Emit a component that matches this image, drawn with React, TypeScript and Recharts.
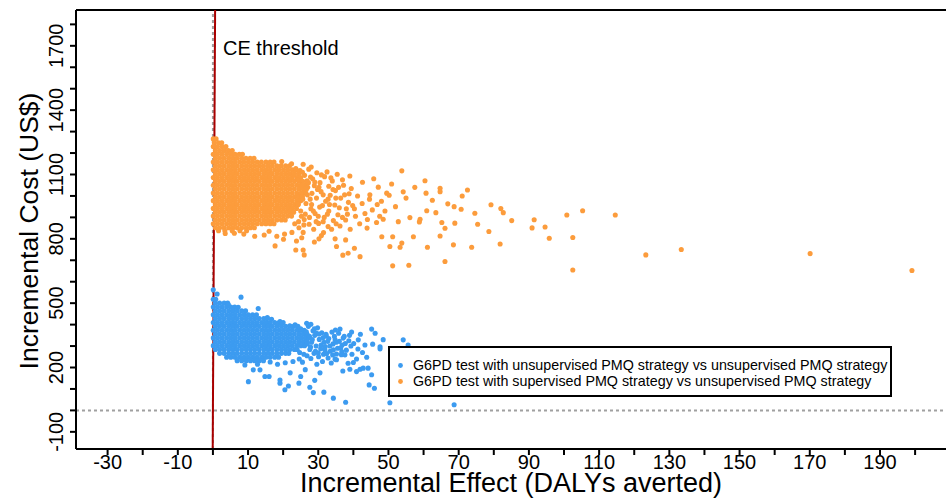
import React from 'react';
import { ScatterChart, Scatter, XAxis, YAxis, ReferenceLine, Legend } from 'recharts';

const FONT = "'Liberation Sans', Arial, sans-serif";
const BLUE = '#3c9bf0';
const ORANGE = '#fc9c3c';
const COLORS = [BLUE, ORANGE];

const SERIES_NAMES = [
  'G6PD test with unsupervised PMQ strategy vs unsupervised PMQ strategy',
  'G6PD test with supervised PMQ strategy vs unsupervised PMQ strategy',
];

const X_DOMAIN = [-39, 208.8];
const Y_DOMAIN = [-180, 1867];
const X_TICKS = [-30, -20, -10, 0, 10, 20, 30, 40, 50, 60, 70, 80, 90, 100, 110, 120, 130, 140, 150, 160, 170, 180, 190, 200];
const X_TICK_LABELS = [-30, -10, 10, 30, 50, 70, 90, 110, 130, 150, 170, 190];
const Y_TICKS = [-100, 0, 100, 200, 300, 400, 500, 600, 700, 800, 900, 1000, 1100, 1200, 1300, 1400, 1500, 1600, 1700, 1800];
const Y_TICK_LABELS = [-100, 200, 500, 800, 1100, 1400, 1700];
const CE_THRESHOLD = 3000; // US$ per DALY averted

// Orange (supervised) dense core: one cost level per row, x values read along the row
const ORANGE_CORE_COSTS = [1266, 1248, 1230, 1212, 1194, 1176, 1158, 1140, 1122, 1104, 1086, 1068, 1050, 1032, 1014, 996, 978, 960, 942, 924, 906, 888, 870, 852, 838];
const ORANGE_CORE_ROWS = [
  [0.1, 0.9],
  [0.4, 1.6, 2.5],
  [0.1, 1.3, 2.6, 3.7],
  [0.7, 1.9, 3.2, 4.4, 5.5],
  [0.1, 1.3, 2.6, 3.9, 5.1, 6.3, 7.5, 8.4],
  [0.7, 1.9, 3.2, 4.5, 5.7, 6.9, 8.2, 9.4, 10.6, 11.7],
  [0.1, 1.3, 2.6, 3.9, 5.1, 6.3, 7.6, 8.8, 10.1, 11.3, 12.6, 13.8, 15.1, 16.3, 17.4],
  [0.7, 1.9, 3.2, 4.5, 5.7, 6.9, 8.2, 9.5, 10.7, 11.9, 13.2, 14.4, 15.7, 16.9, 18.2, 19.4, 20.7, 21.8],
  [0.1, 1.3, 2.6, 3.9, 5.1, 6.3, 7.6, 8.9, 10.1, 11.3, 12.6, 13.9, 15.1, 16.3, 17.6, 18.8, 20.1, 21.3, 22.6, 23.7],
  [0.7, 1.9, 3.2, 4.5, 5.7, 6.9, 8.2, 9.5, 10.7, 11.9, 13.2, 14.5, 15.7, 16.9, 18.2, 19.5, 20.7, 21.9, 23.2, 24.4],
  [0.1, 1.3, 2.6, 3.9, 5.1, 6.3, 7.6, 8.9, 10.1, 11.3, 12.6, 13.9, 15.1, 16.3, 17.6, 18.9, 20.1, 21.3, 22.6, 23.9, 25.0],
  [0.7, 1.9, 3.2, 4.5, 5.7, 6.9, 8.2, 9.5, 10.7, 11.9, 13.2, 14.5, 15.7, 16.9, 18.2, 19.5, 20.7, 21.9, 23.2, 24.5, 25.6],
  [0.1, 1.3, 2.6, 3.9, 5.1, 6.3, 7.6, 8.9, 10.1, 11.3, 12.6, 13.9, 15.1, 16.3, 17.6, 18.9, 20.1, 21.3, 22.6, 23.9, 25.1, 26.2],
  [0.7, 1.9, 3.2, 4.5, 5.7, 6.9, 8.2, 9.5, 10.7, 11.9, 13.2, 14.5, 15.7, 16.9, 18.2, 19.5, 20.7, 21.9, 23.2, 24.5, 25.7],
  [0.1, 1.3, 2.6, 3.9, 5.1, 6.3, 7.6, 8.9, 10.1, 11.3, 12.6, 13.9, 15.1, 16.3, 17.6, 18.9, 20.1, 21.3, 22.6, 23.9, 25.1, 26.0],
  [0.7, 1.9, 3.2, 4.5, 5.7, 6.9, 8.2, 9.5, 10.7, 11.9, 13.2, 14.5, 15.7, 16.9, 18.2, 19.5, 20.7, 21.9, 23.2, 24.5, 25.5],
  [0.1, 1.3, 2.6, 3.9, 5.1, 6.3, 7.6, 8.9, 10.1, 11.3, 12.6, 13.9, 15.1, 16.3, 17.6, 18.9, 20.1, 21.3, 22.6, 23.9, 25.0],
  [0.7, 1.9, 3.2, 4.5, 5.7, 6.9, 8.2, 9.5, 10.7, 11.9, 13.2, 14.5, 15.7, 16.9, 18.2, 19.5, 20.7, 21.9, 23.2, 24.3],
  [0.1, 1.3, 2.6, 3.9, 5.1, 6.3, 7.6, 8.9, 10.1, 11.3, 12.6, 13.9, 15.1, 16.3, 17.6, 18.9, 20.1, 21.3, 22.6, 23.8],
  [0.7, 1.9, 3.2, 4.5, 5.7, 6.9, 8.2, 9.5, 10.7, 11.9, 13.2, 14.5, 15.7, 16.9, 18.2, 19.5, 20.7, 21.9, 23.0],
  [0.1, 1.3, 2.6, 3.9, 5.1, 6.3, 7.6, 8.9, 10.1, 11.3, 12.6, 13.9, 15.1, 16.3, 17.6, 18.9, 20.1, 21.3, 22.4],
  [0.7, 1.9, 3.2, 4.5, 5.7, 6.9, 8.2, 9.5, 10.7, 11.9, 13.2, 14.5, 15.7, 16.9, 18.2, 19.5, 20.6],
  [0.1, 1.3, 2.6, 3.9, 5.1, 6.3, 7.6, 8.9, 10.1, 11.3, 12.6, 13.9, 15.1, 16.3, 17.4],
  [0.7, 1.9, 3.2, 4.5, 5.7, 6.9, 8.2, 9.5, 10.7, 11.8],
  [1.6, 3.4, 5.5, 7.7, 9.6],
];
// Orange scattered points [effect, cost]
const ORANGE_SCATTER = [
  [24.8, 1118], [26.1, 1096], [27.3, 1125], [28.4, 1080], [29.6, 1108], [30.5, 1062], [31.8, 1090], [33.0, 1045],
  [27.0, 1040], [28.2, 1012], [29.5, 990], [30.8, 1020], [32.1, 975], [33.4, 1003], [34.7, 958], [26.5, 965],
  [27.9, 940], [29.1, 918], [30.4, 948], [31.7, 900], [33.0, 930], [34.3, 885], [35.6, 912], [26.0, 890],
  [27.4, 868], [28.7, 845], [30.1, 872], [31.5, 829], [32.8, 857], [24.5, 852], [25.7, 830], [35.8, 1040],
  [36.9, 1075], [37.5, 1005], [38.6, 970], [39.4, 1035], [40.3, 940], [41.2, 1000], [42.5, 965], [43.3, 918],
  [44.6, 985], [45.4, 935], [46.8, 960], [47.5, 905], [36.2, 860], [37.8, 888], [39.1, 845], [40.6, 905],
  [41.8, 870], [43.9, 850], [34.0, 1070], [32.5, 1112], [25.7, 1148], [28.0, 1135], [22.4, 1150], [19.6, 1160],
  [27.2, 1062], [28.9, 1048], [26.4, 1012], [29.8, 1030], [31.2, 955], [32.6, 915], [34.9, 1025], [36.4, 990],
  [38.0, 940], [35.1, 870], [33.8, 845], [30.9, 815],
  [23.0, 1100], [24.2, 1075], [25.3, 1050], [26.6, 1030], [27.8, 1088], [24.0, 1000], [25.6, 985], [26.9, 1005],
  [28.1, 960], [25.0, 930], [26.3, 915], [27.5, 900], [24.4, 880], [25.9, 865], [29.0, 1065], [30.2, 1040],
  [31.4, 1005], [32.8, 985], [30.0, 905], [31.4, 880], [33.2, 960], [29.4, 880], [28.6, 930], [27.7, 985],
  [26.8, 1070], [25.5, 1110], [23.6, 1128], [24.3, 962], [25.2, 905], [23.3, 870], [35.0, 990], [36.0, 945],
  [34.2, 1030], [37.2, 1050], [33.6, 1085], [30.9, 1098], [38.8, 1010], [39.8, 955], [36.9, 900], [38.3, 915],
  [22.5, 830], [20.4, 822], [18.2, 812], [14.6, 818], [11.9, 812], [8.8, 822], [6.1, 826], [16.0, 835],
  [25.3, 805], [23.8, 790], [17.7, 767], [20.1, 798], [26.0, 725], [25.7, 748], [23.6, 748], [28.9, 785],
  [30.2, 800], [3.5, 825],
  [35.4, 1101], [39.0, 1093], [42.6, 1064], [53.8, 1117], [60.4, 1071], [64.7, 1036], [64.7, 1020], [50.9, 1056],
  [47.1, 1041], [44.7, 1005], [49.5, 1013], [50.2, 1003], [54.2, 1019], [60.7, 1013], [66.9, 963], [68.7, 950],
  [70.7, 938], [74.6, 919], [75.4, 868], [60.9, 931], [63.5, 922], [56.1, 899], [59.0, 891], [58.8, 879],
  [52.8, 880], [48.5, 891], [46.6, 876], [65.2, 876], [66.1, 849], [68.9, 873], [57.1, 810], [64.7, 813],
  [68.5, 772], [73.7, 761], [61.1, 761], [66.1, 694], [55.8, 677], [51.2, 674], [53.3, 761], [53.8, 780],
  [50.4, 764], [51.2, 810], [48.1, 810], [41.9, 717], [40.3, 756], [37.0, 724], [38.5, 733], [35.2, 764],
  [34.8, 800], [37.8, 795],
  [45.8, 1080], [48.0, 975], [52.0, 950], [55.0, 990], [57.5, 1040], [44.0, 890], [49.0, 930], [62.5, 980],
  [71.0, 1000], [72.5, 1028],
  [79.2, 959], [82.0, 941], [82.7, 922], [85.1, 885], [78.6, 834], [81.8, 776], [91.5, 889], [90.9, 851],
  [94.6, 855], [95.8, 803], [100.8, 911], [105.3, 931], [102.5, 806], [102.5, 655], [114.6, 911], [123.3, 725],
  [133.4, 750], [170.1, 731], [199.1, 652],
];

// Blue (unsupervised) dense core
const BLUE_CORE_COSTS = [518, 500, 482, 464, 446, 428, 410, 392, 374, 356, 338, 320, 302, 284, 266, 248, 232];
const BLUE_CORE_ROWS = [
  [0.1, 0.8],
  [0.7, 1.9, 3.2, 4.2],
  [0.1, 1.3, 2.6, 3.9, 5.1, 6.2],
  [0.7, 1.9, 3.2, 4.5, 5.7, 6.9, 8.2, 9.3],
  [0.1, 1.3, 2.6, 3.9, 5.1, 6.3, 7.6, 8.9, 10.1, 11.3, 12.4],
  [0.7, 1.9, 3.2, 4.5, 5.7, 6.9, 8.2, 9.5, 10.7, 11.9, 13.2, 14.5, 15.5],
  [0.1, 1.3, 2.6, 3.9, 5.1, 6.3, 7.6, 8.9, 10.1, 11.3, 12.6, 13.9, 15.1, 16.3, 17.6, 18.9, 20.0],
  [0.7, 1.9, 3.2, 4.5, 5.7, 6.9, 8.2, 9.5, 10.7, 11.9, 13.2, 14.5, 15.7, 16.9, 18.2, 19.5, 20.7, 21.9, 23.0],
  [0.1, 1.3, 2.6, 3.9, 5.1, 6.3, 7.6, 8.9, 10.1, 11.3, 12.6, 13.9, 15.1, 16.3, 17.6, 18.9, 20.1, 21.3, 22.6, 23.9, 25.1, 26.0],
  [0.7, 1.9, 3.2, 4.5, 5.7, 6.9, 8.2, 9.5, 10.7, 11.9, 13.2, 14.5, 15.7, 16.9, 18.2, 19.5, 20.7, 21.9, 23.2, 24.5, 25.7, 26.8],
  [0.1, 1.3, 2.6, 3.9, 5.1, 6.3, 7.6, 8.9, 10.1, 11.3, 12.6, 13.9, 15.1, 16.3, 17.6, 18.9, 20.1, 21.3, 22.6, 23.9, 25.1, 26.3, 27.4],
  [0.7, 1.9, 3.2, 4.5, 5.7, 6.9, 8.2, 9.5, 10.7, 11.9, 13.2, 14.5, 15.7, 16.9, 18.2, 19.5, 20.7, 21.9, 23.2, 24.5, 25.7, 26.8],
  [0.1, 1.3, 2.6, 3.9, 5.1, 6.3, 7.6, 8.9, 10.1, 11.3, 12.6, 13.9, 15.1, 16.3, 17.6, 18.9, 20.1, 21.3, 22.6, 23.9, 25.1, 26.1],
  [0.7, 1.9, 3.2, 4.5, 5.7, 6.9, 8.2, 9.5, 10.7, 11.9, 13.2, 14.5, 15.7, 16.9, 18.2, 19.5, 20.7, 21.9, 23.2, 24.0],
  [1.9, 3.2, 4.5, 5.7, 6.9, 8.2, 9.5, 10.7, 11.9, 13.2, 14.5, 15.7, 16.9, 18.2, 19.5, 20.7, 21.6],
  [3.9, 5.1, 6.3, 7.6, 8.9, 10.1, 11.3, 12.6, 13.9, 15.1, 16.3, 17.6, 18.7],
  [6.9, 8.2, 9.5, 10.7, 11.9, 13.2, 14.4],
];
// Blue scattered points [effect, cost]
const BLUE_SCATTER = [
  [27.2, 392], [28.5, 371], [29.8, 385], [31.0, 362], [32.3, 347], [29.0, 350], [30.3, 331], [31.6, 318],
  [33.0, 335], [34.2, 310], [28.1, 318], [29.4, 300], [30.7, 288], [32.0, 298], [33.4, 276], [27.6, 284],
  [28.8, 266], [30.1, 250], [31.5, 262], [32.8, 244], [34.1, 258], [35.5, 290], [36.8, 305], [38.0, 281],
  [39.3, 300], [36.0, 322], [37.4, 345], [38.7, 325], [40.1, 312], [41.3, 286], [42.6, 270], [39.6, 262],
  [40.9, 240], [35.2, 236], [33.7, 221], [31.2, 228], [29.6, 215], [27.9, 242], [26.8, 255], [24.6, 240],
  [22.8, 228], [20.6, 222], [18.4, 215], [16.3, 226], [12.7, 215], [9.1, 212], [25.5, 225], [34.9, 375],
  [36.2, 379], [32.2, 355], [29.5, 360], [26.7, 406], [27.9, 402], [23.4, 399], [21.9, 395], [19.1, 414],
  [16.7, 425], [15.5, 433], [12.9, 475], [7.2, 481], [4.4, 492], [8.0, 528], [1.2, 543], [0.1, 562],
  [26.6, 366], [27.5, 345], [28.3, 330], [26.9, 310], [27.8, 295], [24.7, 270], [25.9, 262], [28.9, 380],
  [30.2, 356], [31.4, 340], [32.7, 322], [30.8, 305], [29.2, 276], [31.9, 282], [33.3, 300], [34.6, 345],
  [35.8, 360], [33.9, 365], [35.1, 318], [36.4, 292], [37.7, 312], [38.9, 350], [36.6, 260], [30.0, 268],
  [32.4, 265], [25.0, 380], [24.2, 392],
  [37.1, 337], [34.8, 329], [41.4, 329], [43.3, 305], [45.5, 309], [47.6, 287], [45.2, 379], [46.2, 360],
  [54.2, 329], [55.6, 305], [47.6, 297], [34.3, 282], [36.7, 274], [37.6, 259], [34.8, 239], [35.2, 263],
  [40.0, 223], [41.9, 192], [42.8, 197], [40.9, 181], [44.2, 197], [45.2, 166], [44.5, 119], [46.0, 103],
  [39.0, 192], [37.0, 184], [34.3, 57], [37.8, 38], [31.6, 85], [28.6, 83], [27.6, 108], [24.5, 127],
  [25.0, 158], [20.5, 96], [21.5, 114], [19.1, 127], [19.1, 142], [10.1, 134], [14.8, 158], [16.0, 158],
  [13.4, 189], [11.5, 189], [50.4, 36], [68.7, 26], [38.5, 220], [43.8, 248], [48.5, 330], [42.0, 355],
  [39.5, 365], [26.3, 190], [30.5, 175], [22.0, 175], [29.0, 140],
];

const rowsToPoints = (costs: number[], rows: number[][]) =>
  rows.flatMap((xs, i) => xs.map((x) => ({ x, y: costs[i] })));
const pairsToPoints = (pairs: number[][]) => pairs.map(([x, y]) => ({ x, y }));

const bluePoints = [...rowsToPoints(BLUE_CORE_COSTS, BLUE_CORE_ROWS), ...pairsToPoints(BLUE_SCATTER)];
const orangePoints = [...rowsToPoints(ORANGE_CORE_COSTS, ORANGE_CORE_ROWS), ...pairsToPoints(ORANGE_SCATTER)];

const ceSegment = [
  { x: Y_DOMAIN[0] / CE_THRESHOLD, y: Y_DOMAIN[0] },
  { x: Y_DOMAIN[1] / CE_THRESHOLD, y: Y_DOMAIN[1] },
];

const dot = (color: string) => (p: any) => <circle cx={p.cx} cy={p.cy} r={2.55} fill={color} />;

const XTick = (props: any) => {
  const { x, y, payload } = props;
  if (!X_TICK_LABELS.includes(payload.value)) return <g />;
  return (
    <text x={x} y={y + 12} textAnchor="middle" fontSize={20} fontFamily={FONT} fill="#000">
      {payload.value}
    </text>
  );
};

const YTick = (props: any) => {
  const { x, y, payload } = props;
  if (!Y_TICK_LABELS.includes(payload.value)) return <g />;
  const bx = x - 5;
  return (
    <text x={bx} y={y} transform={`rotate(-90, ${bx}, ${y})`} textAnchor="middle" fontSize={20} fontFamily={FONT} fill="#000">
      {payload.value}
    </text>
  );
};

const YTitle = () => (
  <text x={38} y={231} transform="rotate(-90, 38, 231)" textAnchor="middle" fontSize={26.5} fontFamily={FONT} fill="#000">
    Incremental Cost (US$)
  </text>
);

const XTitle = () => (
  <text x={511} y={492} textAnchor="middle" fontSize={27} fontFamily={FONT} fill="#000">
    Incremental Effect (DALYs averted)
  </text>
);

const CeLabel = () => (
  <text x={223} y={55} fontSize={20} fontFamily={FONT} fill="#000">
    CE threshold
  </text>
);

const LegendBox = () => (
  <div
    style={{
      position: 'relative',
      width: 504,
      height: 51,
      boxSizing: 'border-box',
      border: '2px solid #000',
      background: '#fff',
      fontFamily: FONT,
      fontSize: 14.3,
      color: '#000',
    }}
  >
    {SERIES_NAMES.map((name, i) => (
      <div
        key={name}
        style={{ position: 'absolute', left: 0, top: i === 0 ? 8.5 : 25, height: 17, lineHeight: '17px', whiteSpace: 'nowrap' }}
      >
        <svg width={23} height={17} style={{ verticalAlign: 'top' }}>
          <circle cx={10.5} cy={8.5} r={2.4} fill={COLORS[i]} />
        </svg>
        <span>{name}</span>
      </div>
    ))}
  </div>
);

export default function App() {
  return (
    <div style={{ width: 946, height: 499, background: '#fff' }}>
      <style>{'body{margin:0;background:#fff}'}</style>
      <ScatterChart width={946} height={499} margin={{ top: 10, right: 0, bottom: 0, left: 0 }}>
        <XAxis
          type="number"
          dataKey="x"
          domain={X_DOMAIN}
          allowDataOverflow
          ticks={X_TICKS}
          interval={0}
          height={50}
          tickSize={6}
          axisLine={{ stroke: '#000', strokeWidth: 2 }}
          tickLine={{ stroke: '#000', strokeWidth: 2 }}
          tick={<XTick />}
          label={<XTitle />}
        />
        <YAxis
          type="number"
          dataKey="y"
          domain={Y_DOMAIN}
          allowDataOverflow
          ticks={Y_TICKS}
          interval={0}
          width={76}
          tickSize={6}
          axisLine={{ stroke: '#000', strokeWidth: 2 }}
          tickLine={{ stroke: '#000', strokeWidth: 2 }}
          tick={<YTick />}
          label={<YTitle />}
        />
        <Scatter name={SERIES_NAMES[1]} data={orangePoints} fill={ORANGE} shape={dot(ORANGE)} isAnimationActive={false} />
        <Scatter name={SERIES_NAMES[0]} data={bluePoints} fill={BLUE} shape={dot(BLUE)} isAnimationActive={false} />
        <ReferenceLine y={0} stroke="#a0a0a0" strokeWidth={2} strokeDasharray="3 3" />
        <ReferenceLine x={0} stroke="#a0a0a0" strokeWidth={2} strokeDasharray="3 3" />
        <ReferenceLine y={Y_DOMAIN[1]} stroke="#000" strokeWidth={2} />
        <ReferenceLine segment={ceSegment} stroke="#a80000" strokeWidth={2} ifOverflow="visible" label={<CeLabel />} />
        <Legend
          verticalAlign="middle"
          align="center"
          layout="horizontal"
          wrapperStyle={{ left: 388, top: 346, width: 504, height: 51 }}
          content={() => <LegendBox />}
        />
      </ScatterChart>
    </div>
  );
}
